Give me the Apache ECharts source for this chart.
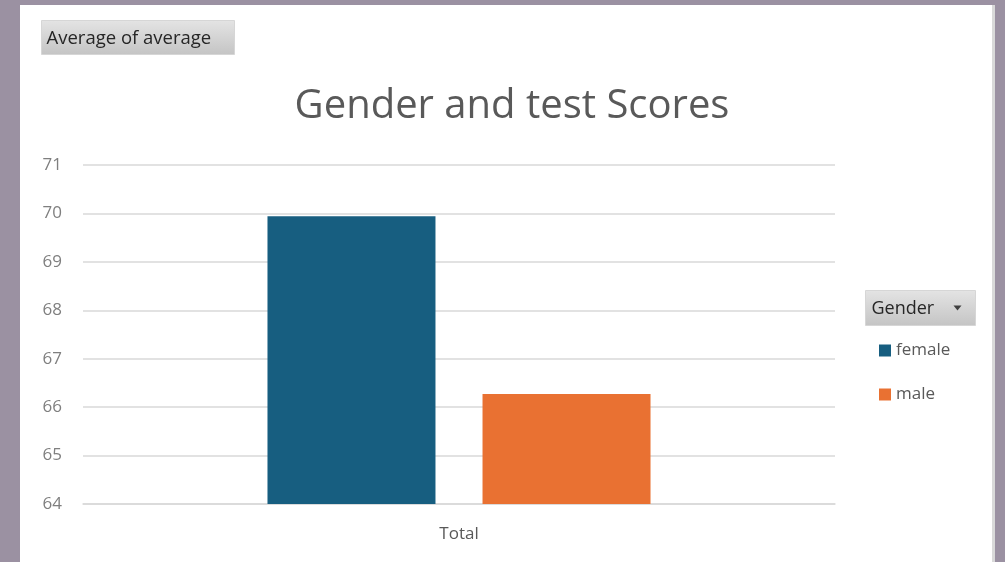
<!DOCTYPE html>
<html>
<head>
<meta charset="utf-8">
<script src="https://cdn.jsdelivr.net/npm/echarts@6/dist/echarts.min.js"></script>
<style>
  html, body { margin: 0; padding: 0; background: #9b91a2; }
  #panel { position: absolute; left: 20px; top: 5px; width: 972px; height: 557px; background: #ffffff; border-right: 3px solid #d9d9d9; }
  #chart { position: absolute; left: 0; top: 0; width: 1005px; height: 562px; }
</style>
</head>
<body>
<div id="panel"></div>
<div id="chart"></div>
<script>
const categories = ['Total'];
const seriesNames = ['female', 'male'];
const femaleValues = [69.94];
const maleValues = [66.27];
const colors = ['#175e80', '#e97132'];

const chart = echarts.init(document.getElementById('chart'), null, { renderer: 'canvas' });
const font = '"Open Sans", "Noto Sans", sans-serif';

chart.setOption({
  backgroundColor: 'transparent',
  animation: false,
  title: {
    text: 'Gender and test Scores',
    left: 507, top: 82, textAlign: 'center',
    textStyle: { fontFamily: font, fontSize: 40, fontWeight: 'normal', color: '#595959' }
  },
  grid: { left: 83, right: 170, top: 165, bottom: 58, containLabel: false },
  xAxis: {
    type: 'category', data: categories,
    axisLine: { show: true, lineStyle: { color: '#d9d9d9', width: 1.5 } },
    axisTick: { show: false },
    axisLabel: { fontFamily: font, fontSize: 17, color: '#595959', margin: 22 }
  },
  yAxis: {
    type: 'value', min: 64, max: 71, interval: 1,
    axisLine: { show: false }, axisTick: { show: false },
    axisLabel: { fontFamily: font, fontSize: 17, color: '#7f7f7f', margin: 21 },
    splitLine: { lineStyle: { color: '#d9d9d9', width: 1.5 } }
  },
  legend: {
    orient: 'vertical', left: 874, top: 337, itemGap: 27,
    itemWidth: 12, itemHeight: 12, icon: 'rect',
    textStyle: { fontFamily: font, fontSize: 17, color: '#595959' },
    data: seriesNames
  },
  series: [
    { name: seriesNames[0], type: 'bar', data: femaleValues, barWidth: 168, barGap: '28%', itemStyle: { color: colors[0] } },
    { name: seriesNames[1], type: 'bar', data: maleValues, barWidth: 168, itemStyle: { color: colors[1] } }
  ],
  graphic: [
    {
      type: 'group', left: 41, top: 20,
      children: [
        { type: 'rect', shape: { x: 0, y: 0, width: 193, height: 34 },
          style: { fill: new echarts.graphic.LinearGradient(0, 0, 0, 1, [{ offset: 0, color: '#e4e4e4' }, { offset: 1, color: '#c4c4c4' }]), stroke: '#d6d6d6', lineWidth: 1 } },
        { type: 'text', x: 5, y: 18,
          style: { text: 'Average of average', fontFamily: font, fontSize: 18.5, fill: '#262626', textVerticalAlign: 'middle' } }
      ]
    },
    {
      type: 'group', left: 865, top: 290,
      children: [
        { type: 'rect', shape: { x: 0, y: 0, width: 110, height: 35 },
          style: { fill: new echarts.graphic.LinearGradient(0, 0, 0, 1, [{ offset: 0, color: '#e4e4e4' }, { offset: 1, color: '#c4c4c4' }]), stroke: '#d6d6d6', lineWidth: 1 } },
        { type: 'text', x: 6, y: 18,
          style: { text: 'Gender', fontFamily: font, fontSize: 18, fill: '#262626', textVerticalAlign: 'middle' } },
        { type: 'polygon', shape: { points: [[88, 15], [96, 15], [92, 20]] }, style: { fill: '#404040' } }
      ]
    }
  ]
});
</script>
</body>
</html>
